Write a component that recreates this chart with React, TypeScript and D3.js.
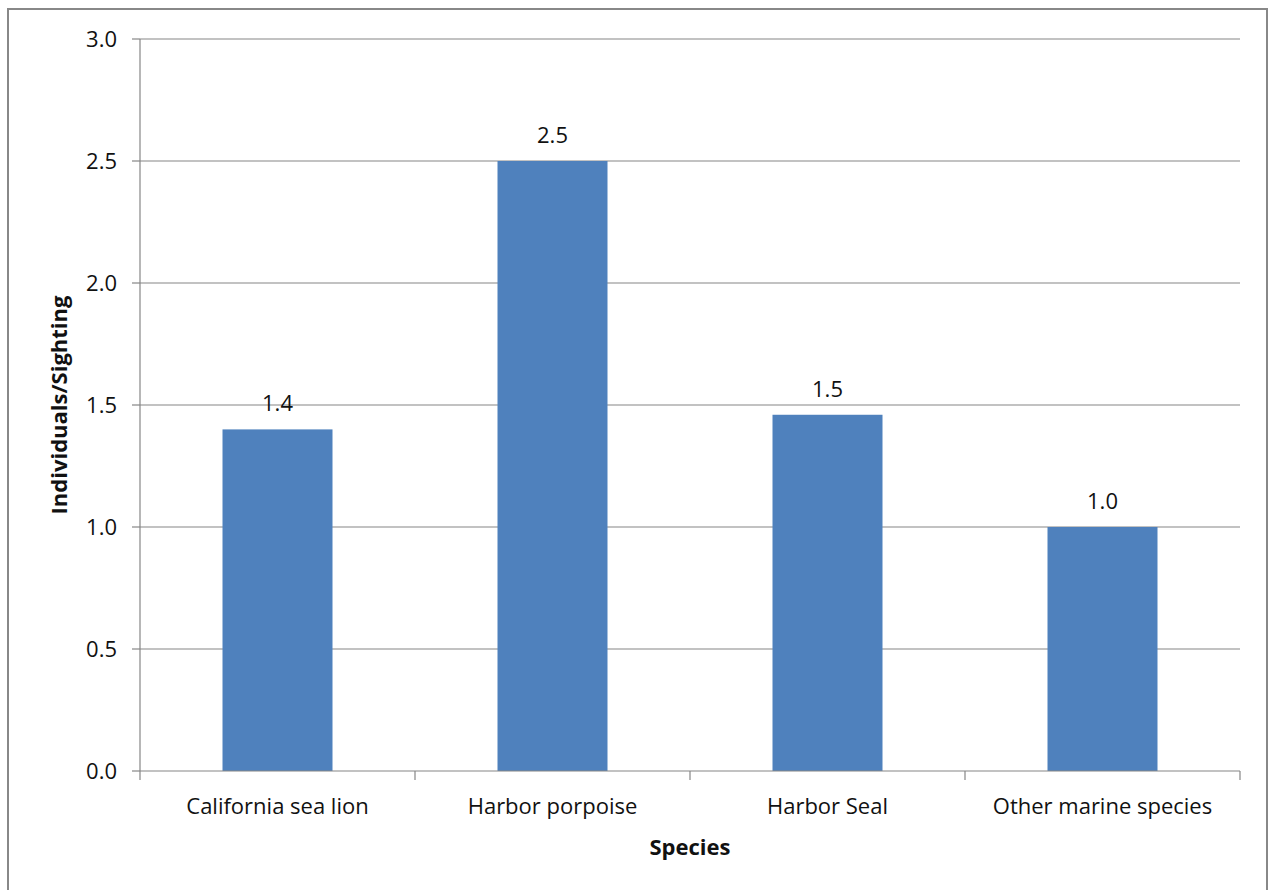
import React, { useEffect, useRef } from "react";
import * as d3 from "d3";

const categories = ["California sea lion", "Harbor porpoise", "Harbor Seal", "Other marine species"];
const values = [1.4, 2.5, 1.46, 1.0];
const yTicks = [0, 0.5, 1.0, 1.5, 2.0, 2.5, 3.0];

const W = 1270;
const H = 890;
const FONT = "'Open Sans', 'Noto Sans', sans-serif";
const FS = 22;

export default function App() {
  const ref = useRef<SVGSVGElement>(null);

  useEffect(() => {
    const svg = d3.select(ref.current);
    svg.selectAll("*").remove();

    const left = 140, right = 1240, top = 39, bottom = 771;

    svg.append("rect")
      .attr("x", 8).attr("y", 9).attr("width", 1259).attr("height", H)
      .attr("fill", "#fff").attr("stroke", "#888").attr("stroke-width", 2);

    const x = d3.scaleBand<string>().domain(categories).range([left, right]).paddingInner(0).paddingOuter(0);
    const y = d3.scaleLinear().domain([0, 3]).range([bottom, top]);

    const g = svg.append("g");

    g.selectAll("line.grid").data(yTicks.filter(t => t > 0)).enter().append("line")
      .attr("x1", left).attr("x2", right)
      .attr("y1", d => y(d)).attr("y2", d => y(d))
      .attr("stroke", "#868686").attr("stroke-width", 1.2);

    g.selectAll("line.ytick").data(yTicks).enter().append("line")
      .attr("x1", left - 8).attr("x2", left)
      .attr("y1", d => y(d)).attr("y2", d => y(d))
      .attr("stroke", "#868686").attr("stroke-width", 1.2);

    g.selectAll("text.ylab").data(yTicks).enter().append("text")
      .attr("x", left - 23).attr("y", d => y(d))
      .attr("dy", "0.35em")
      .attr("text-anchor", "end")
      .attr("font-family", FONT).attr("font-size", FS).attr("fill", "#111")
      .text(d => d.toFixed(1));

    const bw = x.bandwidth() * 0.4;
    g.selectAll("rect.bar").data(values).enter().append("rect")
      .attr("x", (d, i) => x(categories[i])! + x.bandwidth() / 2 - bw / 2)
      .attr("y", d => y(d))
      .attr("width", bw)
      .attr("height", d => bottom - y(d))
      .attr("fill", "#4F81BD");

    g.selectAll("text.val").data(values).enter().append("text")
      .attr("x", (d, i) => x(categories[i])! + x.bandwidth() / 2)
      .attr("y", d => y(d) - 18)
      .attr("text-anchor", "middle")
      .attr("font-family", FONT).attr("font-size", FS).attr("fill", "#111")
      .text(d => d.toFixed(1));

    g.append("line").attr("x1", left).attr("x2", left).attr("y1", top).attr("y2", bottom)
      .attr("stroke", "#868686").attr("stroke-width", 1.2);
    g.append("line").attr("x1", left).attr("x2", right).attr("y1", bottom).attr("y2", bottom)
      .attr("stroke", "#868686").attr("stroke-width", 1.2);

    const xt = categories.map(c => x(c)!).concat([right]);
    g.selectAll("line.xtick").data(xt).enter().append("line")
      .attr("x1", d => d).attr("x2", d => d)
      .attr("y1", bottom).attr("y2", bottom + 9)
      .attr("stroke", "#868686").attr("stroke-width", 1.2);

    g.selectAll("text.xlab").data(categories).enter().append("text")
      .attr("x", d => x(d)! + x.bandwidth() / 2)
      .attr("y", 814)
      .attr("text-anchor", "middle")
      .attr("font-family", FONT).attr("font-size", FS).attr("fill", "#111")
      .text(d => d);

    svg.append("text")
      .attr("x", 690).attr("y", 855)
      .attr("text-anchor", "middle")
      .attr("font-family", FONT).attr("font-size", FS).attr("font-weight", "bold").attr("fill", "#111")
      .text("Species");

    svg.append("text")
      .attr("transform", `translate(67, 405) rotate(-90)`)
      .attr("text-anchor", "middle")
      .attr("font-family", FONT).attr("font-size", FS).attr("font-weight", "bold").attr("fill", "#111")
      .text("Individuals/Sighting");
  }, []);

  return (
    <svg ref={ref} width={W} height={H} style={{ display: "block", position: "absolute", left: 0, top: 0 }} />
  );
}
